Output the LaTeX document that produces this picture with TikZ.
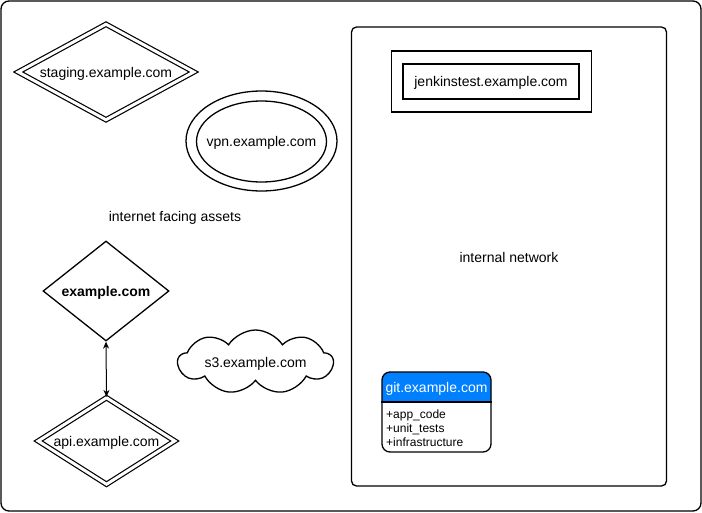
\documentclass[tikz,border=0pt]{standalone}
\usepackage{fontspec}
\setmainfont{Liberation Sans}
\usetikzlibrary{shapes.geometric,shapes.symbols,arrows.meta}
\definecolor{gitblue}{HTML}{007FFF}
\newcommand{\zw}[1]{\makebox[0pt]{#1}}
\tikzset{
  ln/.style={line width=1.3pt, draw=black},
  txt/.style={font=\fontsize{14}{16}\selectfont, text=black, text height=11pt, text depth=1pt},
  small/.style={font=\fontsize{12}{14}\selectfont, text=black},
  dbl/.style={draw=black, line width=1.2pt, double=white, double distance=3pt},
  dia/.style={diamond, inner sep=0pt, txt},
  box/.style={rectangle, inner sep=0pt, ln},
}
\begin{document}
\begin{tikzpicture}[x=1pt,y=-1pt]
\useasboundingbox (0,0) rectangle (702,512);
% outer frame
\node[box, rounded corners=8pt, minimum width=700, minimum height=510] (frame) at (351,256) {};
% internal network container
\node[box, rounded corners=5pt, minimum width=315, minimum height=459] (internal) at (509,256.5) {};
\node[txt] (internallbl) at (509,257) {internal network};
\node[txt] (internetlbl) at (175,216) {internet facing assets};
% jenkins
\node[box, minimum width=200, minimum height=61] (jenkinsouter) at (491.5,81.5) {};
\node[box, minimum width=176, minimum height=35, txt] (jenkins) at (491,81.5) {jenkinstest.example.com};
% staging
\node[dia, dbl, minimum width=176, minimum height=96] (staging) at (106,72) {\zw{staging.example.com}};
% vpn
\node[ellipse, ln, inner sep=0pt, minimum width=151, minimum height=100] (vpnouter) at (261.5,141) {};
\node[ellipse, ln, inner sep=0pt, minimum width=130, minimum height=81, txt] (vpn) at (261.5,141.5) {\zw{vpn.example.com}};
% example.com
\node[dia, ln, minimum width=126, minimum height=100, font=\fontsize{14}{16}\selectfont\bfseries] (example) at (106,291) {\zw{example.com}};
% api
\node[dia, dbl, minimum width=137, minimum height=87] (api) at (106.5,441) {\zw{api.example.com}};
\draw[line width=1pt, {Stealth[length=7pt,width=6pt]}-{Stealth[length=7pt,width=6pt]}] (example.south) -- (api.north);
% s3 cloud
\node[cloud, cloud puffs=9, cloud puff arc=115, aspect=2.5, ln, inner sep=0pt, minimum width=155, minimum height=64, txt] (s3) at (255.5,362) {\zw{s3.example.com}};
% git
\fill[gitblue] (382,402) {[rounded corners=8pt] -- (382,372) -- (491,372)} -- (491,402) -- cycle;
\node[box, rounded corners=8pt, minimum width=109, minimum height=80] (git) at (436.5,412) {};
\node[txt, text=white] (githead) at (436.5,387) {git.example.com};
\draw[ln] (git.west |- 0,402) coordinate (sepl) -- (git.east |- 0,402) coordinate (sepr);
\node[small, anchor=north west, align=left, inner sep=0pt, font=\fontsize{12}{14}\selectfont] (gititems) at (386,410) {+app\_code\\+unit\_tests\\+infrastructure};
\end{tikzpicture}
\end{document}
